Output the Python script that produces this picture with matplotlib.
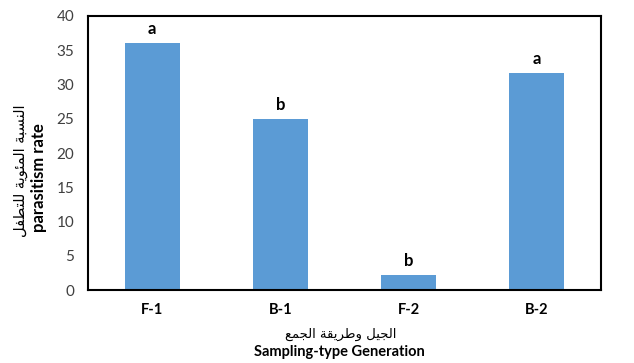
import matplotlib.pyplot as plt

# bars: sampling type x generation
categories = ["F-1", "B-1", "F-2", "B-2"]
parasitism = [36.0, 25.0, 2.2, 31.7]
groups = ["a", "b", "b", "a"]

y_ticks = [0, 5, 10, 15, 20, 25, 30, 35, 40]

xlabel_ar = "الجيل وطريقة الجمع"
xlabel_en = "Sampling-type Generation"
ylabel_ar = "النسبة المئوية للتطفل"
ylabel_en = "parasitism rate"

# arabic presentation forms: isolated, final, initial, medial
FORMS = {
    "ا": ("\ufe8d", "\ufe8e", None, None),
    "ب": ("\ufe8f", "\ufe90", "\ufe91", "\ufe92"),
    "ة": ("\ufe93", "\ufe94", None, None),
    "ت": ("\ufe95", "\ufe96", "\ufe97", "\ufe98"),
    "ج": ("\ufe9d", "\ufe9e", "\ufe9f", "\ufea0"),
    "ر": ("\ufead", "\ufeae", None, None),
    "س": ("\ufeb1", "\ufeb2", "\ufeb3", "\ufeb4"),
    "ط": ("\ufec1", "\ufec2", "\ufec3", "\ufec4"),
    "ع": ("\ufec9", "\ufeca", "\ufecb", "\ufecc"),
    "ف": ("\ufed1", "\ufed2", "\ufed3", "\ufed4"),
    "ق": ("\ufed5", "\ufed6", "\ufed7", "\ufed8"),
    "ل": ("\ufedd", "\ufede", "\ufedf", "\ufee0"),
    "م": ("\ufee1", "\ufee2", "\ufee3", "\ufee4"),
    "ن": ("\ufee5", "\ufee6", "\ufee7", "\ufee8"),
    "و": ("\ufeed", "\ufeee", None, None),
    "ي": ("\ufef1", "\ufef2", "\ufef3", "\ufef4"),
    "ئ": ("\ufe89", "\ufe8a", "\ufe8b", "\ufe8c"),
}


def joins_next(ch):
    return ch in FORMS and FORMS[ch][2] is not None


def shape_arabic(text):
    out = []
    for i, ch in enumerate(text):
        if ch not in FORMS:
            out.append(ch)
            continue
        prev_ch = text[i - 1] if i > 0 else ""
        next_ch = text[i + 1] if i + 1 < len(text) else ""
        from_prev = joins_next(prev_ch)
        to_next = joins_next(ch) and next_ch in FORMS
        iso, fin, ini, med = FORMS[ch]
        if from_prev and to_next:
            out.append(med)
        elif from_prev:
            out.append(fin)
        elif to_next:
            out.append(ini)
        else:
            out.append(iso)
    # visual order, right to left
    return "".join(out)[::-1]


plt.rcParams["font.family"] = ["Lato", "DejaVu Sans"]

fig = plt.figure(figsize=(6.34, 3.63), dpi=100)
ax = fig.add_axes([0.139, 0.201, 0.809, 0.755])

x = range(len(categories))
ax.bar(x, parasitism, width=0.43, color="#5B9BD5", zorder=2)

for xi, val, g in zip(x, parasitism, groups):
    ax.text(xi, val + 0.9, g, ha="center", va="bottom",
            fontsize=12, fontweight="bold", color="black")

ax.set_xlim(-0.5, 3.5)
ax.set_ylim(0, 40)
ax.set_yticks(y_ticks)
ax.set_xticks(list(x))
ax.set_xticklabels(categories, fontsize=10.5, fontweight="bold")
ax.tick_params(axis="both", length=0)
ax.tick_params(axis="y", labelsize=11, labelcolor="#404040", pad=10)
ax.tick_params(axis="x", pad=9)

for side in ax.spines.values():
    side.set_color("black")
    side.set_linewidth(1.5)

fig.text(0.537, 0.08, shape_arabic(xlabel_ar), ha="center", va="center",
         fontsize=9.5, family=["DejaVu Sans"])
fig.text(0.535, 0.03, xlabel_en, ha="center", va="center",
         fontsize=10.5, fontweight="bold")
fig.text(0.032, 0.529, shape_arabic(ylabel_ar), ha="center", va="center",
         rotation=90, fontsize=10.5, family=["DejaVu Sans"])
fig.text(0.061, 0.51, ylabel_en, ha="center", va="center",
         rotation=90, fontsize=12, fontweight="bold")

fig.savefig("out.png", dpi=100)
